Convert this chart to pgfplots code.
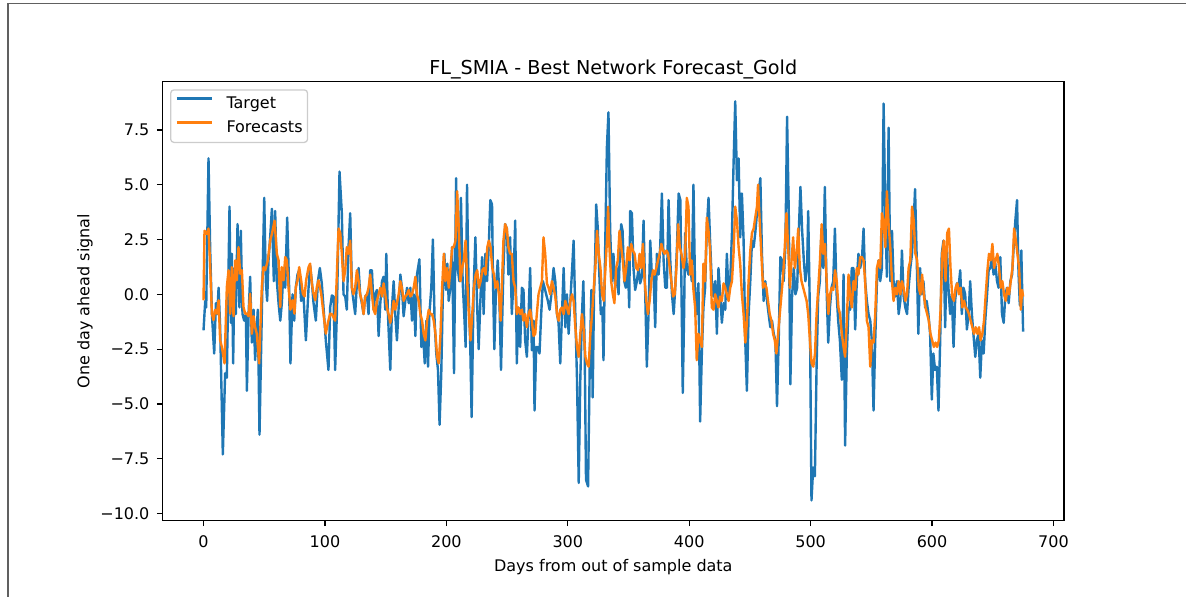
\documentclass[border=0pt]{standalone}
\usepackage{fontspec}
\setmainfont{DejaVu Sans}
\usepackage{pgfplots}
\usepackage{pgfplotstable}
\pgfplotsset{compat=1.18}

\definecolor{tabblue}{HTML}{1F77B4}
\definecolor{taborange}{HTML}{FF7F0E}
\definecolor{framegray}{HTML}{606060}

% Target series
\pgfplotstableread{
day value
0 -1.64
1.4 -0.3
2.2 -0.6
4.1 6.2
5.5 2.0
6.9 -0.9
8.8 -2.7
10.2 -0.4
11.3 -0.9
12.4 0.3
13.7 -1.5
15.9 -7.3
17.8 -3.6
19.2 -3.8
21.4 4.0
22.5 -1.3
23.3 1.85
24.4 -3.15
25.5 1.2
26.6 -0.9
28.0 3.2
29.6 -0.6
30.7 2.9
32.1 -0.9
33.5 -1.2
34.9 -0.9
35.7 -4.4
37.1 -0.9
38.4 0.8
39.8 -2.2
41.2 -0.7
42.5 -3.0
44.7 -0.7
46.1 -6.4
48.0 -0.9
50.0 4.4
51.3 0.6
52.4 -0.3
53.5 1.55
54.9 2.6
56.3 3.9
57.9 0.6
59.0 3.8
60.4 0.6
61.8 -0.4
63.2 -1.2
64.5 -0.4
65.9 1.2
67.3 0.3
68.9 3.5
70.5 0.3
71.6 -3.15
73.3 0.0
74.7 -1.2
76.0 0.3
77.4 0.9
78.8 1.1
80.4 -0.3
82.3 0.0
84.3 -2.1
86.5 0.3
87.8 1.3
89.2 0.6
90.6 -0.4
92.5 -1.2
94.2 0.6
95.8 1.2
97.4 0.5
99.6 -1.2
100.7 -2.1
102.9 -3.45
104.3 -0.6
105.7 -0.05
107.1 -0.1
108.4 -3.45
109.8 -0.9
112.0 5.6
113.9 3.7
115.3 0.0
116.7 -0.1
118.0 -0.7
119.4 2.15
120.8 3.7
122.2 0.3
123.5 -0.3
124.9 -0.9
126.3 0.5
127.7 1.2
129.0 0.0
130.4 -0.4
131.8 -0.9
133.2 -0.1
134.6 0.0
135.9 -0.9
137.3 1.1
138.7 1.1
140.1 -0.7
141.4 0.0
142.8 0.2
144.2 -1.9
145.6 -0.4
147.0 0.6
148.3 0.8
149.7 -0.7
150.5 1.85
151.9 -0.9
153.8 -3.45
155.2 -0.6
156.6 0.6
157.9 -0.9
159.3 -2.1
160.7 -0.6
162.1 0.9
163.4 0.3
164.8 -1.0
166.2 -0.3
167.6 0.3
169.0 -0.4
170.3 0.3
171.7 -1.2
173.1 0.0
174.5 -1.9
175.8 0.9
177.8 1.6
179.4 -2.4
180.5 -1.5
182.2 -3.15
183.5 -1.2
184.9 -3.3
186.0 -0.9
187.6 0.3
188.9 2.5
190.3 -1.2
191.7 -2.7
193.1 -3.45
194.4 -5.95
195.8 -3.6
197.2 0.3
198.3 1.85
199.7 0.2
200.8 1.4
201.9 -0.3
203.3 0.3
204.7 2.15
206.3 -3.6
208.0 5.3
209.3 1.2
210.7 0.6
212.0 4.4
213.4 0.6
214.8 -1.0
215.9 -2.4
217.0 5.0
218.4 0.0
219.7 -2.4
220.8 -5.6
222.5 0.3
223.9 2.6
225.2 -0.3
226.6 -2.5
228.0 -0.3
229.4 1.7
230.7 -0.9
232.1 1.85
233.5 0.6
234.9 2.15
236.2 4.3
237.6 4.1
238.4 0.6
239.5 -2.5
240.9 0.3
242.3 1.55
243.6 0.0
245.0 -3.45
247.0 1.2
248.4 3.2
249.8 3.0
251.1 0.9
252.5 2.6
253.9 -0.9
255.3 0.6
256.7 3.36
258.0 -3.15
259.4 -0.6
260.8 -2.4
262.2 0.3
263.5 0.2
264.9 -2.1
266.3 -2.85
267.7 -0.9
269.0 1.2
270.4 -2.55
271.8 -1.2
272.6 -5.3
274.0 -2.4
275.4 -2.4
276.7 -2.7
278.1 -0.9
279.5 0.6
280.9 0.3
282.2 0.0
283.6 -0.3
285.0 -0.7
286.3 -0.1
288.3 1.2
289.7 0.6
291.1 -0.9
292.4 -1.3
293.8 -3.15
295.2 -0.9
296.6 1.2
298.0 -1.5
299.3 0.0
300.7 -1.8
302.1 -0.3
303.5 1.1
304.8 2.45
306.2 -0.9
307.6 -3.9
309.0 -8.6
310.3 -3.9
311.7 -0.9
312.8 0.6
313.9 -2.4
315.0 -8.45
316.7 -8.76
318.1 -3.15
319.4 0.2
320.5 -4.7
321.6 0.0
322.5 1.55
323.4 4.1
324.7 3.0
325.8 1.2
327.2 -0.9
328.5 -0.6
329.4 -3.0
330.8 2.15
332.2 6.7
333.5 8.3
334.9 2.9
336.3 0.6
337.6 1.85
339.0 0.3
340.4 1.2
341.8 0.0
343.2 2.45
344.0 3.2
345.1 2.9
346.5 0.6
347.8 0.3
349.2 1.85
350.6 -0.6
351.4 3.8
352.8 3.7
354.1 1.2
355.5 0.2
356.9 0.6
358.3 1.2
359.6 0.5
361.0 0.8
362.4 3.36
363.8 0.0
365.1 -3.3
366.5 -0.9
367.9 2.45
369.3 0.8
370.6 0.9
372.0 -1.5
373.4 1.85
374.8 0.9
376.1 2.15
377.5 4.6
378.9 1.55
380.3 0.3
381.6 0.3
383.0 4.3
384.4 1.55
385.8 0.0
387.2 -0.9
388.5 0.3
389.9 2.15
391.3 4.6
392.7 4.3
394.7 -4.5
395.8 -0.9
396.6 2.8
398.0 1.2
399.4 0.9
400.7 1.55
402.1 0.6
403.5 5.0
404.9 0.0
406.2 -0.9
407.6 0.5
409.0 -5.8
410.4 -2.7
411.7 -0.6
413.1 0.3
414.5 3.0
415.9 4.4
417.2 2.45
418.6 0.6
420.0 -0.1
421.4 0.6
422.8 -1.8
424.1 1.2
425.5 0.0
426.9 -1.3
428.3 -0.4
429.7 -0.7
431.0 1.85
432.4 0.0
433.8 0.6
435.2 2.8
436.5 5.9
437.9 8.8
439.3 5.2
440.7 6.2
442.0 2.6
443.4 4.6
444.8 2.45
446.2 -2.2
447.5 -4.4
448.9 -0.9
450.3 0.6
451.7 2.45
453.1 2.15
454.4 2.8
455.8 3.7
457.2 4.7
458.6 5.3
459.9 1.85
461.3 -0.3
462.7 0.6
464.1 -0.3
465.4 -0.9
466.8 -1.5
468.2 -1.2
469.6 -1.8
471.0 -2.1
472.3 -5.1
473.7 -2.1
475.1 1.7
476.5 1.55
477.8 0.6
479.2 2.15
480.6 8.1
482.0 3.7
483.3 -4.1
484.7 -0.1
486.1 1.2
487.5 0.0
488.9 0.3
490.2 2.8
491.6 4.9
493.0 2.9
494.4 1.55
495.7 0.6
497.1 1.2
498.0 3.8
499.4 -0.9
500.7 -9.4
502.1 -7.9
503.5 -8.3
504.9 -3.3
506.2 -0.1
507.6 0.6
509.0 3.0
510.4 1.2
511.7 4.9
513.1 0.3
514.5 -2.2
515.9 -0.6
517.2 0.3
518.6 0.6
520.0 3.0
521.4 0.0
522.7 -1.2
524.1 -2.1
525.7 -3.9
527.1 0.9
528.4 -6.9
529.8 -2.7
531.2 -0.6
532.5 -0.7
533.9 1.2
535.3 1.2
536.7 -1.6
538.0 0.6
539.4 1.85
540.8 1.2
542.2 1.55
543.6 3.0
544.9 0.6
546.3 -0.3
547.7 -0.9
549.1 -1.2
550.4 -2.1
551.8 -5.3
553.2 -2.1
554.6 0.6
556.0 1.55
557.3 0.6
558.7 1.2
560.1 8.7
561.5 3.7
562.8 0.8
564.2 7.6
565.6 0.6
567.0 2.9
568.3 0.6
569.7 -0.1
571.1 0.6
572.5 -0.9
573.9 -0.3
575.2 2.0
576.6 -0.1
578.0 -0.6
579.4 -0.9
580.7 0.3
582.1 1.2
583.5 1.85
584.9 3.36
586.0 4.8
587.4 1.55
588.7 -1.8
590.1 1.2
591.5 0.0
592.9 0.6
594.3 -0.6
595.6 -0.3
597.0 -0.9
598.4 -1.8
599.8 -4.8
601.1 -2.7
602.5 -3.45
603.9 -3.3
605.3 -5.3
606.7 -2.1
608.0 1.85
609.4 2.45
610.8 -1.5
612.2 2.15
613.5 0.3
614.9 -0.9
616.3 0.0
617.7 -2.4
619.0 -0.3
620.4 0.5
621.8 0.3
623.2 1.1
624.5 -0.9
625.9 0.3
627.3 0.0
628.7 -1.6
630.1 -0.9
631.4 0.6
632.8 -0.9
634.2 -1.9
635.6 -2.85
636.9 -2.1
638.3 -1.8
639.7 -3.8
641.1 -2.1
642.5 -2.7
643.8 -1.2
645.2 -0.1
646.6 1.1
648.0 1.2
649.3 1.7
650.7 0.9
652.1 1.4
653.5 0.6
654.8 0.3
656.2 1.7
657.6 -0.9
659.0 -1.3
660.4 0.0
661.7 0.3
663.1 -0.4
664.5 0.6
665.9 0.9
667.2 2.15
668.6 3.36
670.0 4.3
671.2 1.0
672.3 -0.5
673.5 2.0
675.0 -1.7
}\targetdata

% Forecasts series
\pgfplotstableread{
day value
0 -0.27
0.8 2.9
2.7 2.75
4.1 3.0
5.5 1.24
6.9 -0.88
8.2 -1.18
9.6 -0.7
11.0 -0.88
12.4 -0.27
13.7 -2.1
15.1 -2.4
17.3 -3.15
19.2 0.33
20.6 1.1
22.0 -0.88
23.3 1.24
24.7 -1.0
26.1 1.55
27.4 0.64
28.8 2.15
30.2 0.94
31.6 1.1
32.9 -0.58
34.3 -0.88
35.7 -0.88
37.1 -1.0
38.4 0.03
39.8 -1.8
41.2 -1.0
42.5 -1.5
43.9 -1.8
45.8 -3.15
48.0 0.33
49.4 1.24
50.8 1.1
53.0 1.55
54.9 2.45
56.3 2.75
58.5 3.36
60.4 1.85
61.8 1.55
63.2 -0.58
64.5 1.24
65.9 0.64
67.3 1.7
68.6 1.55
70.0 0.33
71.6 -0.7
73.3 -0.27
74.9 -0.88
76.0 0.33
77.4 0.64
78.8 1.24
80.4 0.64
81.8 0.03
83.2 -0.1
84.5 0.64
86.5 1.24
87.8 1.4
89.2 0.5
90.6 0.03
92.0 -0.27
93.3 0.33
94.7 0.64
96.9 0.03
98.8 -0.88
100.7 -1.79
102.4 -1.3
104.3 -0.88
105.7 -0.9
108.4 -1.2
111.2 3.0
112.6 2.8
113.9 1.85
115.3 0.6
116.7 1.1
118.0 2.15
119.4 1.85
120.8 2.45
122.2 0.3
123.5 0.0
124.9 0.3
126.3 1.1
127.7 0.6
129.0 0.0
130.4 -0.3
131.8 -0.9
133.2 -0.1
134.6 0.0
135.9 0.3
137.3 0.9
138.7 0.0
140.1 -0.7
141.4 -0.9
142.8 -0.3
144.2 0.0
145.6 0.3
147.0 -0.1
148.3 0.5
149.7 0.0
151.0 -0.6
152.4 -0.9
153.8 -1.3
155.2 -0.9
156.6 -0.3
157.9 -0.7
159.3 -0.4
160.7 0.0
162.1 0.6
163.4 0.3
164.8 -0.3
166.2 -0.1
167.6 0.0
169.0 0.2
170.3 -0.1
171.7 0.0
173.1 0.3
174.5 0.8
175.8 0.0
177.2 -0.3
178.6 -0.9
180.0 -1.2
181.3 -1.8
182.7 -2.1
184.1 -1.2
185.5 -0.7
186.9 -0.9
188.2 -0.9
189.6 -1.2
191.0 -1.8
192.4 -2.85
193.7 -3.15
195.1 -1.9
196.5 0.3
197.9 1.85
199.2 0.6
200.6 1.2
202.0 0.3
203.4 1.2
204.8 2.15
206.1 2.15
207.5 2.45
208.9 4.7
210.3 2.9
211.6 0.6
213.0 1.2
214.4 1.55
215.8 2.45
217.2 0.6
218.5 -0.9
219.9 -2.1
221.3 -0.9
222.7 0.3
224.1 0.9
225.4 1.1
226.8 0.3
228.2 0.6
229.6 1.1
230.9 1.2
232.3 0.9
233.7 2.15
235.0 2.45
236.4 2.15
237.8 1.2
239.2 0.9
240.5 0.3
241.9 0.6
243.3 0.0
244.7 -1.2
247.0 2.45
248.4 3.2
249.8 3.0
251.1 2.15
252.5 1.85
253.9 1.85
255.3 0.6
256.7 0.3
258.0 -0.9
259.4 -0.6
260.8 -0.9
262.2 -0.7
263.5 -1.2
264.9 -0.9
266.3 -1.5
267.7 -0.9
269.0 -0.7
270.4 -1.2
271.8 -1.9
273.2 -1.8
274.5 -0.9
275.9 0.0
277.3 0.3
278.7 0.6
280.0 2.6
281.4 1.85
282.8 0.5
284.2 0.3
285.5 0.0
286.9 0.6
288.3 0.3
289.7 -0.1
291.1 -0.9
292.4 -1.2
293.8 -0.7
295.2 -0.6
296.6 -0.9
298.0 -0.3
299.3 -0.6
300.7 -0.9
302.1 -0.3
303.5 0.0
304.8 -0.3
306.2 -1.5
307.6 -2.4
309.0 -2.85
310.3 -1.8
311.7 -0.9
313.1 -1.6
314.5 -2.85
315.8 -3.15
317.2 -3.3
318.6 -1.8
320.0 -0.9
321.4 0.3
322.7 1.2
324.1 2.9
325.5 1.85
326.9 1.2
328.2 0.0
329.6 -0.3
331.0 1.2
332.4 2.6
333.2 4.0
334.3 2.15
335.7 0.6
337.1 0.0
338.4 -0.4
339.8 1.2
341.2 1.55
342.6 2.9
344.0 2.15
345.3 1.55
346.7 0.6
348.1 1.2
349.5 2.15
350.9 1.55
352.2 2.3
353.6 2.0
355.0 1.85
356.4 1.2
357.8 1.1
359.1 1.85
360.5 1.2
361.9 2.3
363.3 0.6
364.7 -0.3
366.0 -0.9
367.4 -0.3
368.8 0.6
370.2 1.1
371.5 0.9
372.9 1.2
374.3 1.55
375.7 1.85
377.1 2.3
378.4 2.0
379.8 1.85
381.2 2.0
382.6 1.85
384.0 1.2
385.3 0.6
386.7 -0.1
388.1 0.0
389.5 1.2
390.9 3.2
392.2 2.15
393.6 1.85
395.3 1.2
396.6 1.7
398.0 4.4
399.4 4.0
400.7 0.9
402.1 1.55
403.5 0.2
404.9 -0.6
406.2 -3.0
407.6 -1.8
409.0 -2.1
410.4 -2.4
411.7 1.4
413.1 0.6
414.5 3.5
415.9 2.9
417.2 2.0
418.6 -0.6
420.0 -0.7
421.4 0.0
422.8 -0.3
424.1 -0.6
425.5 -0.1
426.9 -0.3
428.3 0.5
429.7 0.3
431.0 0.0
432.4 -0.3
433.8 0.3
435.2 0.6
436.5 1.85
437.9 4.0
439.3 3.36
440.7 2.15
442.0 1.4
443.4 0.0
444.8 -0.9
446.2 -2.2
447.5 -1.3
448.9 0.6
450.3 2.0
451.7 2.8
453.1 3.0
454.4 3.5
455.8 4.0
456.7 5.0
458.0 3.36
459.4 1.85
460.8 0.3
462.2 0.5
463.6 0.3
464.9 -0.3
466.3 -0.9
467.7 -1.2
469.1 -1.8
470.5 -2.1
471.8 -2.7
473.2 -1.8
474.6 -0.9
476.0 0.0
477.4 0.9
478.7 2.15
480.1 3.7
481.5 2.15
482.9 0.3
484.3 1.55
485.6 2.6
487.0 1.2
488.4 1.85
489.8 3.0
491.1 1.2
492.5 0.6
493.9 0.3
495.3 0.0
496.7 -0.3
498.0 -0.9
499.4 -2.1
500.8 -3.15
502.2 -3.3
503.6 -2.7
504.9 -0.9
506.3 0.3
507.7 1.55
509.1 3.2
510.4 1.85
511.8 2.3
513.2 0.6
514.6 -0.9
516.0 0.0
517.3 0.3
518.7 0.2
520.1 1.1
521.5 0.6
522.9 -0.6
524.2 -0.9
525.7 -1.8
527.1 -2.4
528.4 -2.85
529.8 -1.2
531.2 0.9
532.5 0.0
533.9 -0.6
535.3 0.6
536.7 0.2
538.0 1.2
539.4 0.9
540.8 1.7
542.2 1.7
543.6 1.55
544.9 0.6
546.3 -1.2
547.7 -1.5
549.1 -3.3
550.4 -2.1
551.8 -2.2
553.2 -0.9
554.6 1.2
556.0 1.55
557.3 1.2
558.7 3.7
560.1 3.36
561.5 2.15
562.8 4.7
564.2 3.2
565.6 2.15
567.0 0.6
568.3 -0.3
569.7 0.3
571.1 0.0
572.5 0.6
573.9 0.0
575.2 0.6
576.6 0.3
578.0 -0.3
579.4 0.0
580.7 1.2
582.1 1.55
583.5 4.0
584.9 3.36
586.3 1.85
587.7 1.55
589.1 0.3
590.4 0.0
591.8 0.9
593.2 0.0
594.6 -0.6
596.0 -0.9
597.3 -1.2
598.7 -1.8
600.1 -2.1
601.5 -2.4
602.9 -2.2
604.2 -2.4
605.6 -2.1
607.0 -0.7
608.4 1.85
609.7 2.45
611.1 0.6
612.5 2.8
613.9 3.0
615.2 1.2
616.6 -0.1
618.0 -0.3
619.4 0.3
620.8 0.5
622.1 0.0
623.5 0.3
624.9 -0.6
626.3 -0.3
627.7 -0.6
629.0 -0.7
630.4 -0.9
631.8 -1.2
633.2 -1.5
634.5 -1.8
635.9 -1.5
637.3 -1.8
638.7 -1.5
640.0 -2.1
641.4 -1.8
642.8 -1.2
644.2 0.0
645.6 1.1
646.9 1.85
648.3 1.55
649.7 2.3
651.1 1.2
652.4 1.55
653.8 1.85
655.2 1.2
656.6 0.3
657.9 0.6
659.3 0.0
660.7 -0.3
662.1 0.3
663.5 0.0
664.8 0.6
666.2 1.2
667.6 3.0
669.0 2.45
670.3 1.85
671.7 1.2
673.1 -0.7
674.2 0.2
675.0 -0.1
}\forecastdata

\begin{document}
\begin{tikzpicture}
% page area and the screenshot frame (top and left edges)
\path[use as bounding box] (-101.6pt,-47.7pt) rectangle (639.7pt,325.4pt);
\draw[framegray, line width=1pt] (-96.6pt,-47.7pt) -- (-96.6pt,323.2pt) -- (639.7pt,323.2pt);

\begin{axis}[
    at={(0pt,0pt)}, anchor=south west,
    scale only axis,
    width=563.5pt, height=274.5pt,
    xmin=-33.75, xmax=708.75,
    ymin=-10.32, ymax=9.71,
    axis line style={black, line width=0.8pt},
    tick align=outside,
    tick pos=left,
    major tick length=3.5pt,
    every tick/.style={black, line width=0.8pt},
    xtick={0,100,200,300,400,500,600,700},
    xticklabels={0,100,200,300,400,500,600,700},
    ytick={-10,-7.5,-5,-2.5,0,2.5,5,7.5},
    yticklabels={−10.0,−7.5,−5.0,−2.5,0.0,2.5,5.0,7.5},
    tick label style={font=\fontsize{10}{12}\selectfont, inner sep=0pt},
    xticklabel style={anchor=base, yshift=-13.2pt},
    yticklabel style={anchor=east, xshift=-4.5pt},
    title={FL\_SMIA - Best Network Forecast\_Gold},
    title style={at={(axis description cs:0.5,0.99344)}, anchor=base,
        font=\fontsize{12}{14}\selectfont, inner sep=0pt},
    xlabel={Days from out of sample data},
    xlabel style={at={(axis description cs:0.5,-0.1166)}, anchor=base,
        font=\fontsize{10}{12}\selectfont, inner sep=0pt},
    ylabel={One day ahead signal},
    ylabel style={at={(axis description cs:-0.0812,0.5)}, anchor=base,
        font=\fontsize{10}{12}\selectfont, inner sep=0pt},
    legend cell align=left,
    legend image code/.code={\draw[#1] (0pt,3.5pt) -- (22pt,3.5pt);},
    legend style={at={(axis description cs:0.00834,0.98215)}, anchor=north west,
        draw=black!20, line width=0.8pt, rounded corners=2pt,
        fill=white, fill opacity=0.8, text opacity=1,
        font=\fontsize{10}{12}\selectfont,
        inner xsep=3.1pt, inner ysep=4.2pt,
        column sep=8.3pt, row sep=5.6pt,
        nodes={inner sep=0pt, text height=7.3pt, text depth=2.1pt}},
]
\addplot[tabblue, line width=1.5pt, line join=round] table[x=day, y=value] {\targetdata};
\addlegendentry{Target}
\addplot[taborange, line width=1.5pt, line join=round] table[x=day, y=value] {\forecastdata};
\addlegendentry{Forecasts}
\end{axis}
\end{tikzpicture}
\end{document}
